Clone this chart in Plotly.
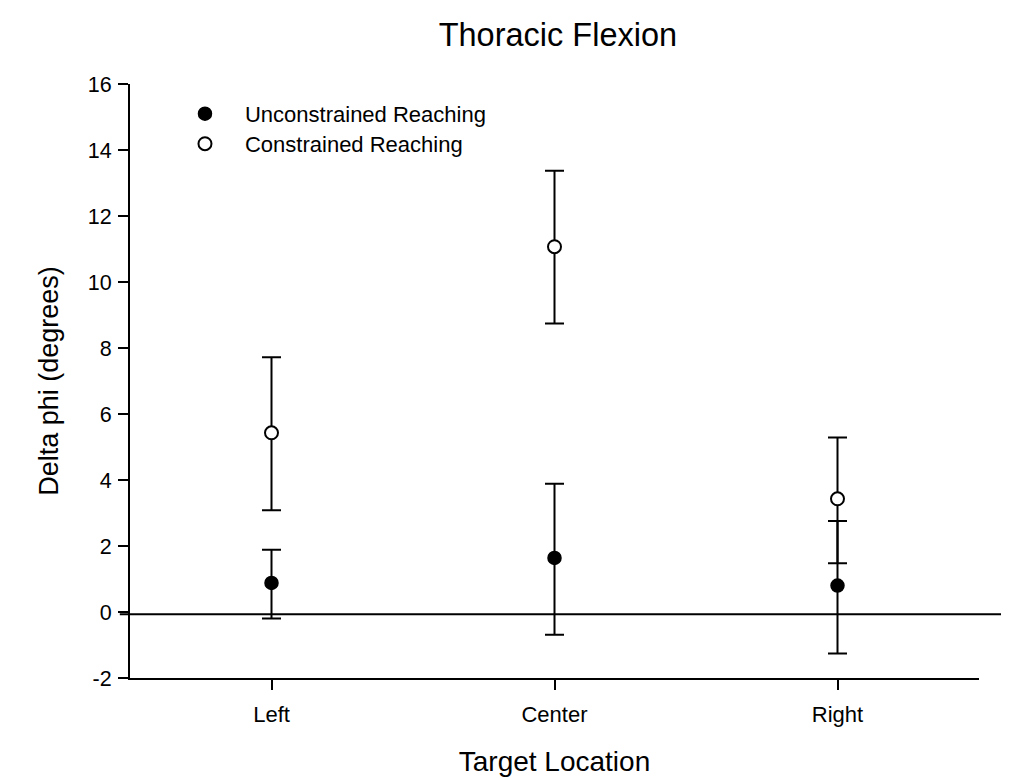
import plotly.graph_objects as go

categories = ["Left", "Center", "Right"]

uncon_mean = [0.88, 1.64, 0.80]
uncon_plus = [1.01, 2.25, 1.96]
uncon_minus = [1.08, 2.33, 2.06]

con_mean = [5.43, 11.07, 3.43]
con_plus = [2.29, 2.30, 1.86]
con_minus = [2.35, 2.33, 1.95]

y_ticks = [-2, 0, 2, 4, 6, 8, 10, 12, 14, 16]
y_tick_labels = ["-2", "0", "2", "4", "6", "8", "10", "12", "14", "16"]
ref_line_y = -0.07

FONT = "Arial, Liberation Sans, sans-serif"

fig = go.Figure()

fig.add_trace(go.Scatter(
    x=categories, y=uncon_mean, mode="markers", name="Unconstrained Reaching",
    legend="legend",
    marker=dict(symbol="circle", size=13, color="black", line=dict(color="black", width=1.5)),
    error_y=dict(type="data", symmetric=False, array=uncon_plus, arrayminus=uncon_minus,
                 color="black", thickness=2, width=9.5),
))
fig.add_trace(go.Scatter(
    x=categories, y=con_mean, mode="markers", name="Constrained Reaching",
    legend="legend2",
    marker=dict(symbol="circle", size=13, color="white", line=dict(color="black", width=2)),
    error_y=dict(type="data", symmetric=False, array=con_plus, arrayminus=con_minus,
                 color="black", thickness=2, width=9.5),
))

fig.add_shape(type="line", xref="paper", yref="y", x0=-0.012, x1=1.06,
              y0=ref_line_y, y1=ref_line_y, line=dict(color="black", width=2), layer="below")

legend_common = dict(xanchor="left", yanchor="top", bgcolor="rgba(0,0,0,0)",
                     font=dict(size=22, family=FONT), itemwidth=70)

fig.update_layout(
    width=1009, height=778,
    margin=dict(l=122, r=38, t=76, b=108),
    paper_bgcolor="white", plot_bgcolor="white",
    font=dict(family=FONT, color="black", size=20),
    title=dict(text="Thoracic Flexion", x=0.545, xanchor="center", y=1 - 27 / 778, yanchor="middle",
               font=dict(size=32.5, family=FONT)),
    showlegend=True,
    legend=dict(x=0.0412, y=0.985, **legend_common),
    legend2=dict(x=0.0412, y=0.9345, **legend_common),
    xaxis=dict(
        type="category", range=[-0.5, 2.5], showgrid=False, zeroline=False,
        showline=True, linecolor="black", linewidth=2,
        ticks="outside", ticklen=10, tickwidth=2, tickcolor="black",
        tickfont=dict(size=22, family=FONT), ticklabelstandoff=6,
        title=dict(text="Target Location", font=dict(size=28, family=FONT), standoff=25),
    ),
    yaxis=dict(
        range=[-2, 16], tickvals=y_ticks, ticktext=y_tick_labels,
        showgrid=False, zeroline=False,
        showline=True, linecolor="black", linewidth=2,
        ticks="outside", ticklen=10, tickwidth=2, tickcolor="black",
        tickfont=dict(size=21.5, family=FONT), ticklabelstandoff=2,
        title=dict(text="Delta phi (degrees)", font=dict(size=27, family=FONT), standoff=21),
    ),
)

fig.write_html("out.html")
